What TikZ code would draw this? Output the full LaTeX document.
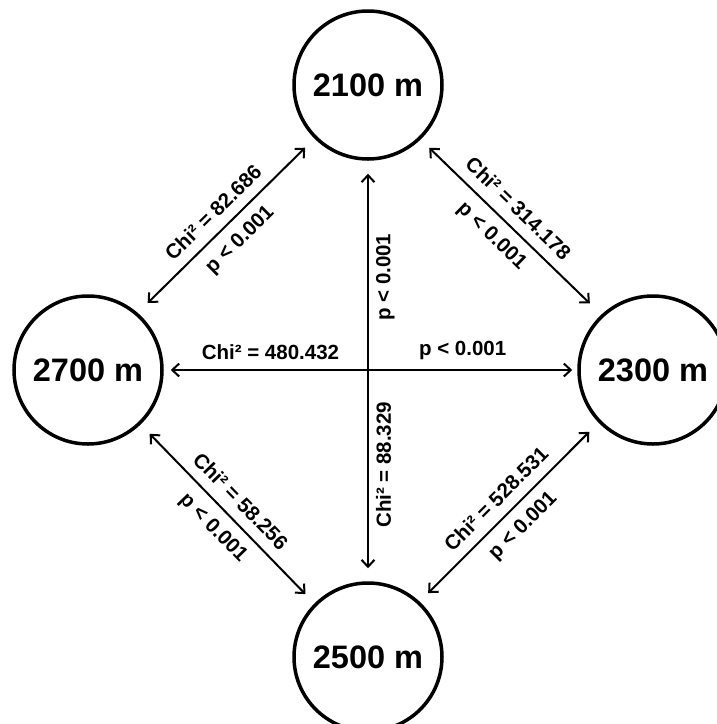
\documentclass[tikz,border=0pt]{standalone}
\usepackage{fontspec}
\setmainfont{Liberation Sans}
\usetikzlibrary{arrows.meta}
\begin{document}
\begin{tikzpicture}[x=1pt,y=-1pt,
  station/.style={circle, draw, line width=3.5pt, minimum size=148pt, inner sep=0pt,
    font=\fontsize{32.5}{38}\selectfont\bfseries},
  link/.style={{Straight Barb[length=7pt,width=13pt]}-{Straight Barb[length=7pt,width=13pt]},
    line width=2pt},
  lab/.style={font=\fontsize{20.5}{24}\selectfont\bfseries, inner sep=0pt, sloped}]
\useasboundingbox (0,0) rectangle (716,724);
\node[station] (t) at (368,85) {2100 m};
\node[station] (l) at (88,370) {2700 m};
\node[station] (r) at (653,370) {2300 m};
\node[station] (b) at (368,657) {2500 m};
% top - left
\draw[link, shorten <=13pt, shorten >=14pt] (t.225) -- (l.49)
  node[lab, midway, above=10pt] {Chi² = 82.686}
  node[lab, midway, below=10pt] {p < 0.001};
% top - right
\draw[link, shorten <=12pt, shorten >=16pt] (t.314) -- (r.133)
  node[lab, pos=0.47, above=10pt] {Chi² = 314.178}
  node[lab, pos=0.47, below=10pt] {p < 0.001};
% left - bottom
\draw[link, shorten <=13pt, shorten >=13pt] (l.314) -- (b.135.5)
  node[lab, midway, above=10pt] {Chi² = 58.256}
  node[lab, midway, below=10pt] {p < 0.001};
% bottom - right
\draw[link, shorten <=12pt, shorten >=13pt] (b.47) -- (r.224.5)
  node[lab, midway, above=10pt] {Chi² = 528.531}
  node[lab, midway, below=10pt] {p < 0.001};
% vertical
\draw[link, shorten <=13pt, shorten >=13pt] (b.90) -- (t.270)
  node[lab, pos=0.277, below=7pt] {Chi² = 88.329}
  node[lab, pos=0.723, below=7pt] {p < 0.001};
% horizontal
\draw[link, shorten <=7pt, shorten >=5pt] (l.0) -- (r.180)
  node[lab, pos=0.258, above=9pt] {Chi² = 480.432}
  node[lab, pos=0.723, above=9pt] {p < 0.001};
\end{tikzpicture}
\end{document}
